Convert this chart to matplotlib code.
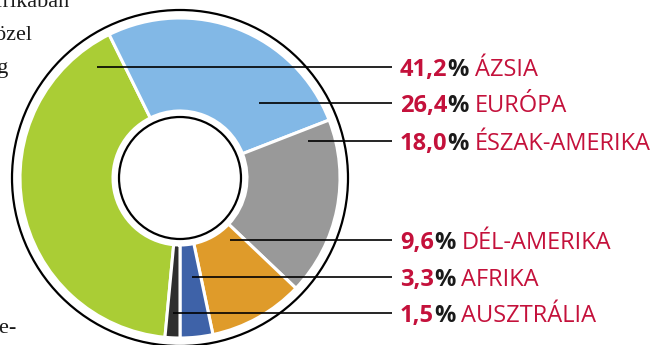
import matplotlib
matplotlib.use("Agg")
import matplotlib.pyplot as plt
from matplotlib.patches import Circle

# Share of the total by continent (%)
regions = ["ÁZSIA", "EURÓPA", "ÉSZAK-AMERIKA", "DÉL-AMERIKA", "AFRIKA", "AUSZTRÁLIA"]
shares = [41.2, 26.4, 18.0, 9.6, 3.3, 1.5]
share_labels = ["41,2", "26,4", "18,0", "9,6", "3,3", "1,5"]
colors = ["#aacd35", "#82b8e6", "#999999", "#df9b2a", "#3e62a8", "#2e2e2e"]

W, H = 660, 345
RED = "#c4113b"

fig = plt.figure(figsize=(W / 100, H / 100), dpi=100)
ax = fig.add_axes([0, 0, 1, 1])


def py(y):
    """Convert a top-down pixel row into the axis' y coordinate."""
    return H - y


cx, cy = 180, py(178)
r_out, r_in = 160, 67

ax.pie(shares, colors=colors, radius=r_out, center=(cx, cy),
       startangle=270 - shares[-1] * 3.6, counterclock=False,
       wedgeprops=dict(width=r_out - r_in, edgecolor="white", linewidth=2.2))
ax.set_xlim(0, W)
ax.set_ylim(0, H)
ax.set_aspect("auto")
ax.axis("off")

# outer and inner rings
ax.add_patch(Circle((cx, cy), 168, fill=False, ec="black", lw=1.6, zorder=3))
ax.add_patch(Circle((cx, cy), 61, fill=False, ec="black", lw=1.6, zorder=3))

# leader lines and labels
label_rows = [67, 103, 141, 240, 277, 313]
line_starts = [97, 259, 308, 230, 192, 173]
line_end, text_x = 392, 400
fs = 17
FONT = "Open Sans"
renderer = fig.canvas.get_renderer()
for name, lab, row, x0 in zip(regions, share_labels, label_rows, line_starts):
    y = py(row)
    ax.plot([x0, line_end], [y, y], color="black", lw=1.2, zorder=4,
            solid_capstyle="butt")
    t1 = ax.text(text_x, y, lab, color=RED, fontsize=fs, fontweight="bold",
                 family=FONT, va="center_baseline", ha="left")
    x1 = t1.get_window_extent(renderer).x1
    t2 = ax.text(x1, y, "%", color="#1a1a1a", fontsize=fs, fontweight="bold",
                 family=FONT, va="center_baseline", ha="left")
    x2 = t2.get_window_extent(renderer).x1
    ax.text(x2 + 6, y, name, color=RED, fontsize=fs, fontweight="medium",
            family=FONT, va="center_baseline", ha="left")

# neighbouring column text, cut off at the left edge
side = [("Afrikában", 70, 7), ("közel", 33, 40), ("meg", 9, 73), ("ke-", 17, 333)]
for txt, xr, row in side:
    ax.text(xr, py(row), txt, ha="right", va="baseline",
            fontsize=16, family="Liberation Serif", color="#1a1a1a")

fig.savefig("out.png", dpi=100)
